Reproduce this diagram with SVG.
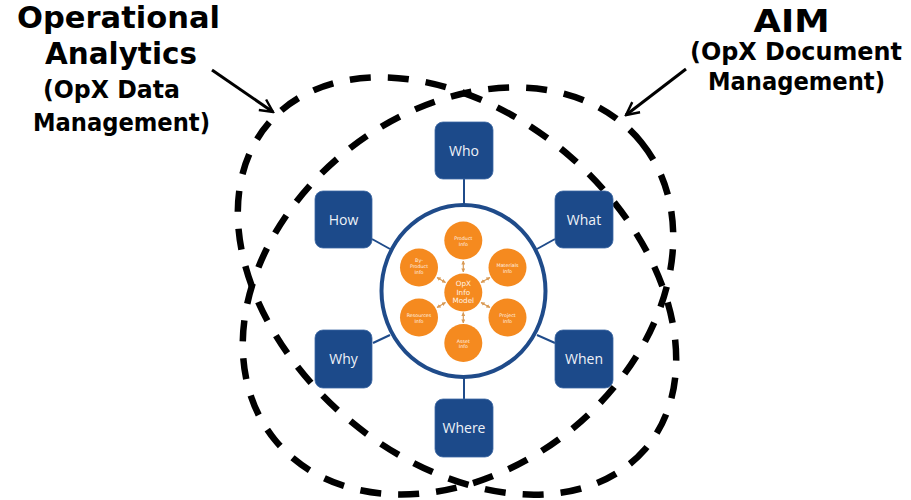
<svg xmlns="http://www.w3.org/2000/svg" width="911" height="500" viewBox="0 0 911 500">
  <style>
    .title { font-family: "DejaVu Sans", Verdana, sans-serif; font-weight: bold; fill: #000; text-anchor: middle; }
    .loop { fill: none; stroke: #000; stroke-width: 6.5; stroke-dasharray: 21 17; }
    .ann { stroke: #000; stroke-width: 3; fill: none; }
    .conn { stroke: #1f4b8a; stroke-width: 2; fill: none; }
    .box { fill: #1c4a8a; stroke: #3d68a3; stroke-width: 0.8; }
    .boxtxt { font-family: "Open Sans", "DejaVu Sans", sans-serif; font-size: 14px; fill: #eef2f8; text-anchor: middle; }
    .orb { fill: #f58a1f; }
    .orbtxt { font-family: "DejaVu Sans", sans-serif; font-size: 4.8px; fill: #fff4e8; text-anchor: middle; }
    .ctxt { font-family: "DejaVu Sans", sans-serif; font-size: 7.2px; fill: #fff4e8; text-anchor: middle; }
    .link { stroke: #d99a55; stroke-width: 1.2; fill: none; }
  </style>
  <defs>
    <marker id="openhead" viewBox="0 0 20 20" refX="18" refY="10" markerWidth="16" markerHeight="16" markerUnits="userSpaceOnUse" orient="auto">
      <path d="M2,2 L18,10 L2,18" fill="none" stroke="#000" stroke-width="3"/>
    </marker>
    <marker id="tiny" viewBox="0 0 10 10" refX="9" refY="5" markerWidth="4" markerHeight="4" markerUnits="userSpaceOnUse" orient="auto-start-reverse">
      <path d="M0,0 L10,5 L0,10 Z" fill="#d99a55"/>
    </marker>
  </defs>

  <rect width="911" height="500" fill="#fff"/>

  <!-- Titles -->
  <g id="title-left">
    <text class="title" x="118.5" y="28" font-size="30.5" textLength="203" lengthAdjust="spacingAndGlyphs">Operational</text>
    <text class="title" x="121" y="63.5" font-size="30.5" textLength="152" lengthAdjust="spacingAndGlyphs">Analytics</text>
    <text class="title" x="111.5" y="97.5" font-size="24" textLength="137" lengthAdjust="spacingAndGlyphs">(OpX Data</text>
    <text class="title" x="121.5" y="130.5" font-size="24" textLength="177" lengthAdjust="spacingAndGlyphs">Management)</text>
  </g>
  <g id="title-right">
    <text class="title" x="791.5" y="32" font-size="32" textLength="76" lengthAdjust="spacingAndGlyphs">AIM</text>
    <text class="title" x="796" y="60" font-size="24" textLength="212" lengthAdjust="spacingAndGlyphs">(OpX Document</text>
    <text class="title" x="796.5" y="89.5" font-size="24" textLength="177" lengthAdjust="spacingAndGlyphs">Management)</text>
  </g>

  <!-- Dashed regions -->
  <g id="regions">
    <ellipse id="region-operational-analytics" class="loop" cx="457" cy="286" rx="249" ry="172" transform="rotate(41 457 286)"/>
    <ellipse id="region-aim" class="loop" cx="458" cy="291" rx="236" ry="179" transform="rotate(-39 458 291)"/>
  </g>

  <!-- Connectors -->
  <g id="connectors">
    <line class="ann" x1="212" y1="70" x2="273" y2="112" marker-end="url(#openhead)"/>
    <line class="ann" x1="686" y1="69" x2="626" y2="115" marker-end="url(#openhead)"/>
    <line class="conn" x1="464" y1="179" x2="464" y2="206"/>
    <line class="conn" x1="372" y1="239" x2="390" y2="249"/>
    <line class="conn" x1="555" y1="239" x2="537" y2="249"/>
    <line class="conn" x1="373" y1="343" x2="390" y2="335"/>
    <line class="conn" x1="555" y1="343" x2="537" y2="335"/>
    <line class="conn" x1="464" y1="376" x2="464" y2="399"/>
  </g>

  <!-- Hub circle with info model -->
  <g id="hub">
    <ellipse cx="463.5" cy="291" rx="82" ry="86" fill="#fff" stroke="#1f4b8a" stroke-width="4"/>
    <g id="hub-links">
      <line class="link" x1="463.3" y1="272" x2="463.3" y2="261" marker-start="url(#tiny)" marker-end="url(#tiny)"/>
      <line class="link" x1="463.3" y1="312.5" x2="463.3" y2="323" marker-start="url(#tiny)" marker-end="url(#tiny)"/>
      <line class="link" x1="481" y1="282.5" x2="490" y2="277.5" marker-start="url(#tiny)" marker-end="url(#tiny)"/>
      <line class="link" x1="481" y1="302.5" x2="490" y2="307.5" marker-start="url(#tiny)" marker-end="url(#tiny)"/>
      <line class="link" x1="445.5" y1="282.5" x2="437" y2="277.5" marker-start="url(#tiny)" marker-end="url(#tiny)"/>
      <line class="link" x1="445.5" y1="302.5" x2="437" y2="307.5" marker-start="url(#tiny)" marker-end="url(#tiny)"/>
    </g>
    <g id="opx-info-model">
      <circle class="orb" cx="463.3" cy="292.5" r="19"/>
      <text class="ctxt" x="463.3" y="286">OpX</text>
      <text class="ctxt" x="463.3" y="294.6">Info</text>
      <text class="ctxt" x="463.3" y="303.2">Model</text>
    </g>
    <g id="product-info">
      <circle class="orb" cx="463.3" cy="240.5" r="19"/>
      <text class="orbtxt" x="463.3" y="240">Product</text>
      <text class="orbtxt" x="463.3" y="245.9">Info</text>
    </g>
    <g id="materials-info">
      <circle class="orb" cx="507.5" cy="267.5" r="19"/>
      <text class="orbtxt" x="507.5" y="267">Materials</text>
      <text class="orbtxt" x="507.5" y="272.9">Info</text>
    </g>
    <g id="project-info">
      <circle class="orb" cx="507.5" cy="317.5" r="19"/>
      <text class="orbtxt" x="507.5" y="317">Project</text>
      <text class="orbtxt" x="507.5" y="322.9">Info</text>
    </g>
    <g id="asset-info">
      <circle class="orb" cx="463.3" cy="343" r="19"/>
      <text class="orbtxt" x="463.3" y="342.5">Asset</text>
      <text class="orbtxt" x="463.3" y="348.4">Info</text>
    </g>
    <g id="resources-info">
      <circle class="orb" cx="419" cy="317.5" r="19"/>
      <text class="orbtxt" x="419" y="317">Resources</text>
      <text class="orbtxt" x="419" y="322.9">Info</text>
    </g>
    <g id="by-product-info">
      <circle class="orb" cx="419" cy="267.5" r="19"/>
      <text class="orbtxt" x="419" y="262.3">By-</text>
      <text class="orbtxt" x="419" y="268.2">Product</text>
      <text class="orbtxt" x="419" y="274.1">Info</text>
    </g>
  </g>

  <!-- Question boxes -->
  <g id="who">
    <rect class="box" x="435" y="122" width="58" height="57" rx="8"/>
    <text class="boxtxt" x="464" y="155.5">Who</text>
  </g>
  <g id="how">
    <rect class="box" x="315" y="191" width="57" height="57" rx="8"/>
    <text class="boxtxt" x="343.5" y="224.5">How</text>
  </g>
  <g id="what">
    <rect class="box" x="555" y="191" width="58" height="57" rx="8"/>
    <text class="boxtxt" x="584" y="224.5">What</text>
  </g>
  <g id="why">
    <rect class="box" x="315" y="330" width="57" height="58" rx="8"/>
    <text class="boxtxt" x="343.5" y="364">Why</text>
  </g>
  <g id="when">
    <rect class="box" x="555" y="330" width="58" height="58" rx="8"/>
    <text class="boxtxt" x="584" y="364">When</text>
  </g>
  <g id="where">
    <rect class="box" x="435" y="399" width="58" height="58" rx="8"/>
    <text class="boxtxt" x="464" y="433">Where</text>
  </g>
</svg>
